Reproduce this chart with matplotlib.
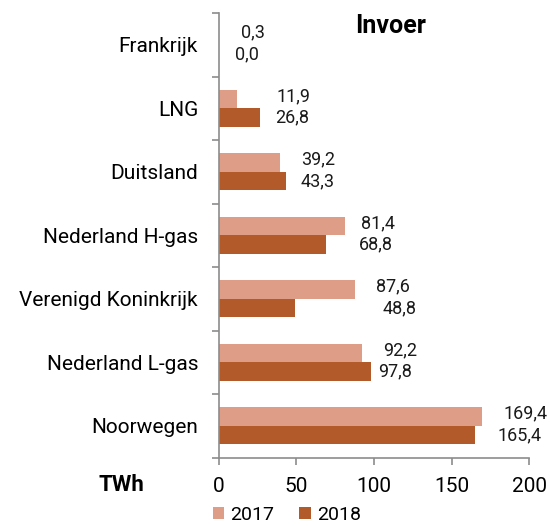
import matplotlib
matplotlib.use('Agg')
import matplotlib.pyplot as plt
import numpy as np

# ---- Data (TWh) ----
categories = ['Frankrijk', 'LNG', 'Duitsland', 'Nederland H-gas',
              'Verenigd Koninkrijk', 'Nederland L-gas', 'Noorwegen']
values_2017 = [0.3, 11.9, 39.2, 81.4, 87.6, 92.2, 169.4]
values_2018 = [0.0, 26.8, 43.3, 68.8, 48.8, 97.8, 165.4]
series_labels = ['2017', '2018']
x_ticks = [0, 50, 100, 150, 200]

COLOR_2017 = '#DE9D86'
COLOR_2018 = '#B35A2A'
AXIS_GREY = '#8C8C8C'

# label nudges (pixels from bar end, as in the original layout)
nudge_2017 = [34, 56, 38, 33, 38, 38, 44]
nudge_2018 = [28, 32, 32, 50, 105, 24, 44]


def fmt(v):
    return f'{v:.1f}'.replace('.', ',')


plt.rcParams['font.family'] = ['Roboto', 'DejaVu Sans']

fig = plt.figure(figsize=(5.5, 5.26), dpi=100)
ax = fig.add_axes([0.398, 0.130, 0.564, 0.845])

y = np.arange(len(categories))
h = 0.29
ax.barh(y - h / 2, values_2017, h, color=COLOR_2017, label=series_labels[0])
ax.barh(y + h / 2, values_2018, h, color=COLOR_2018, label=series_labels[1])

for i in range(len(categories)):
    ax.annotate(fmt(values_2017[i]), (values_2017[i], y[i] - h / 2),
                xytext=(nudge_2017[i], 3), textcoords='offset pixels',
                ha='center', va='center', fontsize=13, color='#1a1a1a')
    ax.annotate(fmt(values_2018[i]), (values_2018[i], y[i] + h / 2),
                xytext=(nudge_2018[i], 0), textcoords='offset pixels',
                ha='center', va='center', fontsize=13, color='#1a1a1a')

ax.set_ylim(len(categories) - 0.5, -0.5)
ax.set_xlim(0, 200)
ax.set_xticks(x_ticks)
ax.set_xticklabels([str(t) for t in x_ticks], fontsize=15)

# category labels between boundary ticks
ax.set_yticks(np.arange(len(categories) + 1) - 0.5)
ax.set_yticklabels([])
ax.set_yticks(y, minor=True)
ax.set_yticklabels(categories, minor=True, fontsize=15)
ax.tick_params(axis='y', which='minor', length=0, pad=15)
ax.tick_params(axis='y', which='major', length=5, color=AXIS_GREY, width=1.2)
ax.tick_params(axis='x', length=5, color=AXIS_GREY, width=1.2, pad=9)

for s in ['top', 'right']:
    ax.spines[s].set_visible(False)
for s in ['left', 'bottom']:
    ax.spines[s].set_color(AXIS_GREY)
    ax.spines[s].set_linewidth(1.2)

ax.text(0.552, 0.97, 'Invoer', transform=ax.transAxes, ha='center', va='center',
        fontsize=18, fontweight='bold')
fig.text(0.22, 0.078, 'TWh', ha='center', va='center', fontsize=16, fontweight='bold')

ax.legend(loc='upper left', bbox_to_anchor=(-0.02, -0.108), ncol=2, frameon=False,
          fontsize=14, handlelength=0.6, handleheight=0.6, handletextpad=0.3,
          columnspacing=1.3, borderaxespad=0, borderpad=0)

fig.savefig('out.png', dpi=100)
